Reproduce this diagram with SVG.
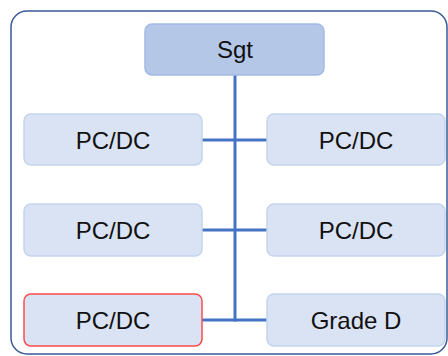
<svg xmlns="http://www.w3.org/2000/svg" width="448" height="356" viewBox="0 0 448 356">
<style>
.frame{fill:#fff;stroke:#3a5a98;stroke-width:1.5}
.node{fill:#dae3f3;stroke:#c4d4ee;stroke-width:1.5}
.top{fill:#b4c7e7;stroke:#a2bbe5;stroke-width:1.5}
.red{fill:#dae3f3;stroke:#ff4b4b;stroke-width:1.5}
.lbl{font-family:"Liberation Sans",Arial,sans-serif;font-size:24px;fill:#111;text-anchor:middle}
.conn{stroke:#4472c4;stroke-width:3;fill:none}
</style>
<rect width="448" height="356" fill="#fff"/>
<rect class="frame" x="11" y="11" width="436" height="343" rx="16"/>
<g id="connectors">
<line class="conn" x1="235" y1="75" x2="235" y2="321.5"/>
<line class="conn" x1="202" y1="140" x2="267" y2="140"/>
<line class="conn" x1="202" y1="230" x2="267" y2="230"/>
<line class="conn" x1="202" y1="320" x2="267" y2="320"/>
</g>
<g id="sgt"><rect class="top" x="145" y="24" width="179" height="51" rx="7"/><text class="lbl" x="235" y="58">Sgt</text></g>
<g id="pcdc1"><rect class="node" x="24" y="114" width="178" height="51" rx="7"/><text class="lbl" x="113" y="148.5">PC/DC</text></g>
<g id="pcdc2"><rect class="node" x="267" y="114" width="178" height="51" rx="7"/><text class="lbl" x="356" y="148.5">PC/DC</text></g>
<g id="pcdc3"><rect class="node" x="24" y="204" width="178" height="52" rx="7"/><text class="lbl" x="113" y="239">PC/DC</text></g>
<g id="pcdc4"><rect class="node" x="267" y="204" width="178" height="52" rx="7"/><text class="lbl" x="356" y="239">PC/DC</text></g>
<g id="pcdc5"><rect class="red" x="24" y="294" width="178" height="52" rx="7"/><text class="lbl" x="113" y="329">PC/DC</text></g>
<g id="gradeD"><rect class="node" x="267" y="294" width="178" height="52" rx="7"/><text class="lbl" x="356" y="329">Grade D</text></g>
</svg>
